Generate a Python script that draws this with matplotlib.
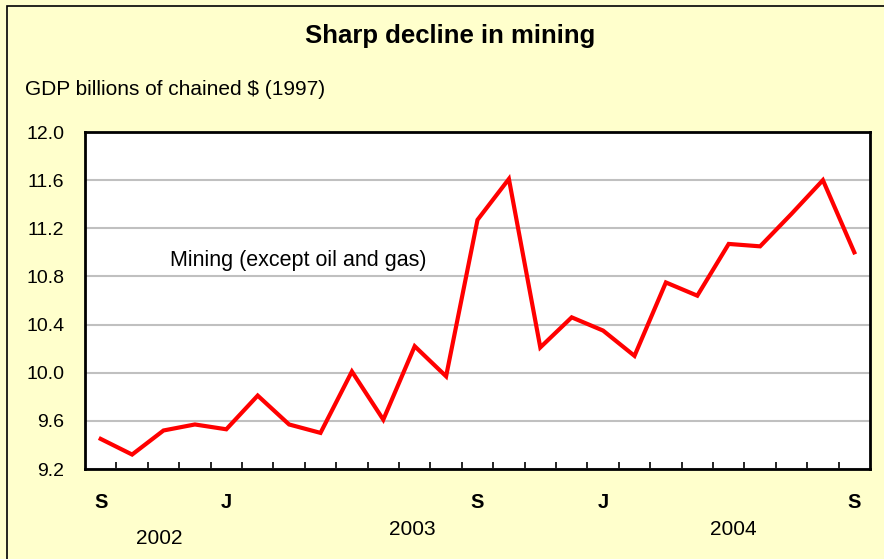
import matplotlib
matplotlib.use("Agg")
import matplotlib.pyplot as plt
from matplotlib.patches import Rectangle

plt.rcParams['font.family'] = ['Liberation Sans', 'DejaVu Sans']

months = ["S", "O", "N", "D", "J", "F", "M", "A", "M", "J", "J", "A",
          "S", "O", "N", "D", "J", "F", "M", "A", "M", "J", "J", "A", "S"]
shown_labels = ["S", "", "", "", "J", "", "", "", "", "", "", "",
                "S", "", "", "", "J", "", "", "", "", "", "", "", "S"]
values = [9.45, 9.32, 9.52, 9.57, 9.53, 9.81, 9.57, 9.50, 10.01, 9.61,
          10.22, 9.97, 11.27, 11.61, 10.21, 10.46, 10.35, 10.14, 10.75, 10.64,
          11.07, 11.05, 11.32, 11.60, 11.00]
years = ["2002", "2003", "2004"]
yticks = [9.2, 9.6, 10.0, 10.4, 10.8, 11.2, 11.6, 12.0]

bg = "#FFFFCC"
fig = plt.figure(figsize=(8.84, 5.59), dpi=100, facecolor=bg)
# outer frame (left and top edges visible)
fig.patches.append(Rectangle((7 / 884, -0.05), 2.0, 1.05 - 6 / 559,
                             transform=fig.transFigure, fill=False,
                             edgecolor="black", linewidth=1.2))

ax = fig.add_axes([85 / 884, (559 - 469) / 559, (870 - 85) / 884, (469 - 132) / 559])
ax.set_facecolor("white")

x = list(range(len(values)))
ax.plot(x, values, color="#FF0000", linewidth=3.0, solid_joinstyle="miter", zorder=3)

ax.set_xlim(-0.5, len(values) - 0.5)
ax.set_ylim(9.2, 12.0)
ax.set_yticks(yticks)
ax.set_yticklabels([f"{v:.1f}" for v in yticks], fontsize=14)
ax.tick_params(axis="y", length=0, pad=15)
ax.yaxis.grid(True, color="#C0C0C0", linewidth=1.5)
ax.set_axisbelow(True)

ax.set_xticks([i + 0.5 for i in range(len(values) - 1)])
ax.set_xticklabels([])
ax.tick_params(axis="x", direction="in", length=5, width=1.2, color="black")

for sp in ax.spines.values():
    sp.set_linewidth(2)
    sp.set_color("black")

for i, lab in enumerate(shown_labels):
    if lab:
        ax.text(i, -0.098, lab, transform=ax.get_xaxis_transform(),
                ha="center", va="center", fontsize=14.5, fontweight="bold")

year_pos = [(1.87, -0.205), (9.93, -0.181), (20.15, -0.181)]
for yr, (px, py) in zip(years, year_pos):
    ax.text(px, py, yr, transform=ax.get_xaxis_transform(),
            ha="center", va="center", fontsize=15)

ax.text(2.2, 10.93, "Mining (except oil and gas)", fontsize=15.5,
        ha="left", va="center")

fig.text(450 / 884, 1 - 36 / 559, "Sharp decline in mining", ha="center",
         va="center", fontsize=18.5, fontweight="bold")
fig.text(25 / 884, 1 - 90 / 559, "GDP billions of chained $ (1997)",
         ha="left", va="center", fontsize=15)

fig.savefig("out.png", dpi=100, facecolor=bg)
